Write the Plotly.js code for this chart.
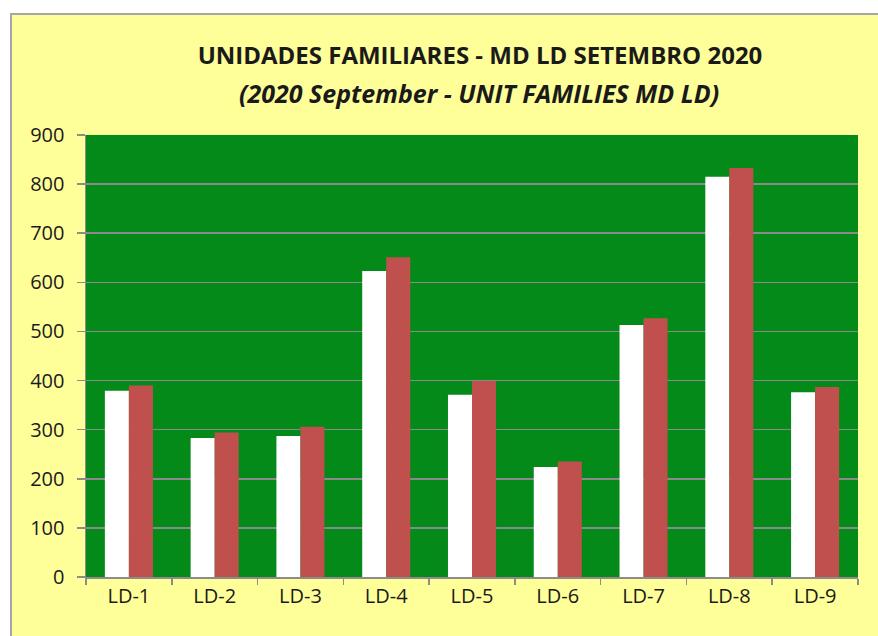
<!DOCTYPE html>
<html>
<head>
<meta charset="utf-8">
<script src="https://cdn.plot.ly/plotly-3.0.1.min.js"></script>
<style>
  html, body { margin: 0; padding: 0; background: #ffffff; width: 878px; height: 636px; overflow: hidden; }
  #chart { position: absolute; left: 10px; top: 13px; width: 866px; height: 621px;
           border-left: 2px solid #a6a6a6; border-top: 2px solid #a6a6a6; }
</style>
</head>
<body>
<div id="chart"></div>
<script>
const categories = ["LD-1", "LD-2", "LD-3", "LD-4", "LD-5", "LD-6", "LD-7", "LD-8", "LD-9"];
const seriesWhite = [379, 283, 287, 623, 371, 224, 513, 815, 376];
const seriesRed = [390, 294, 306, 651, 399, 235, 527, 833, 387];
const yTicks = [0, 100, 200, 300, 400, 500, 600, 700, 800, 900];
const titleLine1 = "UNIDADES FAMILIARES - MD LD SETEMBRO 2020";
const titleLine2 = "(2020 September - UNIT FAMILIES MD LD)";

const FONT = "'Open Sans', Lato, sans-serif";

const traces = [
  { type: "bar", x: categories, y: seriesWhite, name: "A",
    marker: { color: "#ffffff", line: { width: 0 } } },
  { type: "bar", x: categories, y: seriesRed, name: "B",
    marker: { color: "#c0504d", line: { width: 0 } } }
];

const layout = {
  width: 866, height: 621,
  margin: { l: 74, r: 20, t: 120, b: 59, pad: 0 },
  paper_bgcolor: "#ffff99",
  plot_bgcolor: "#038a18",
  showlegend: false,
  barmode: "group",
  bargap: 0.44,
  bargroupgap: 0,
  font: { family: FONT, color: "#1a1a1a", size: 20 },
  title: {
    text: "<b>" + titleLine1 + "</b>",
    font: { family: FONT, size: 24, color: "#1a1a1a" },
    x: 468 / 866, xanchor: "center", xref: "container",
    y: 1 - 41 / 621, yanchor: "middle", yref: "container"
  },
  annotations: [{
    text: "<b><i>" + titleLine2 + "</i></b>",
    font: { family: FONT, size: 25, color: "#1a1a1a" },
    xref: "paper", yref: "paper",
    x: (467 - 74) / (866 - 94), y: 1 + (120 - 78) / 442,
    xanchor: "center", yanchor: "middle", showarrow: false
  }],
  xaxis: {
    type: "category",
    showline: true, linecolor: "#8c8c8c", linewidth: 1.5,
    ticks: "outside", ticklen: 6, tickcolor: "#8c8c8c", tickwidth: 1.5,
    tickson: "boundaries",
    showgrid: false,
    tickfont: { family: FONT, size: 20, color: "#1a1a1a" },
    fixedrange: true
  },
  yaxis: {
    range: [0, 900],
    tickvals: yTicks,
    ticktext: yTicks.map(String),
    showline: true, linecolor: "#8c8c8c", linewidth: 1.5,
    ticks: "outside", ticklen: 8, tickcolor: "#8c8c8c", tickwidth: 1.5,
    showgrid: true, gridcolor: "#8a8a8a", gridwidth: 1.5,
    zeroline: false,
    tickfont: { family: FONT, size: 20, color: "#1a1a1a" },
    ticklabelstandoff: 8,
    fixedrange: true
  }
};

Plotly.newPlot("chart", traces, layout, { displayModeBar: false, staticPlot: true });
</script>
</body>
</html>
